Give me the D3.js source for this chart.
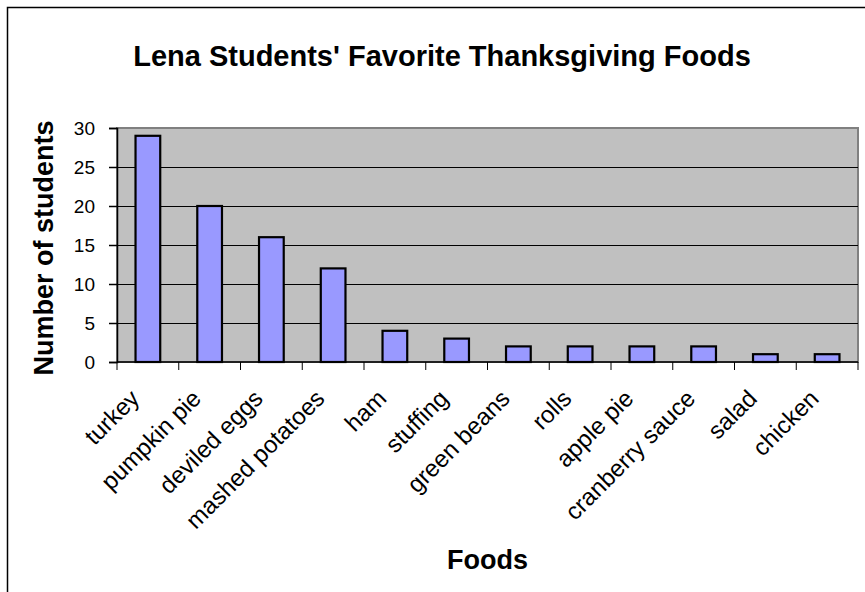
<!DOCTYPE html>
<html>
<head>
<meta charset="utf-8">
<script src="https://cdn.jsdelivr.net/npm/d3@7"></script>
<style>
  body { margin: 0; background: #fff; }
  svg { display: block; font-family: "Liberation Sans", Arial, sans-serif; }
</style>
</head>
<body>
<svg id="chart" width="865" height="592"></svg>
<script>
// survey counts per food
const foods = ["turkey", "pumpkin pie", "deviled eggs", "mashed potatoes", "ham", "stuffing",
  "green beans", "rolls", "apple pie", "cranberry sauce", "salad", "chicken"];
const students = [29, 20, 16, 12, 4, 3, 2, 2, 2, 2, 1, 1];
const yTicks = [0, 5, 10, 15, 20, 25, 30];

const svg = d3.select('#chart');
const plot = { left: 117, right: 858, top: 128, bottom: 362 };

// outer chart frame (runs off the bottom/right of the picture)
svg.append('rect')
  .attr('x', 7.5).attr('y', 7.5)
  .attr('width', 880).attr('height', 620)
  .attr('fill', '#fff').attr('stroke', '#000').attr('stroke-width', 1.5);

const x = d3.scaleBand().domain(foods).range([plot.left, plot.right]).paddingInner(0.6).paddingOuter(0.3);
const xb = d3.scaleBand().domain(foods).range([plot.left, plot.right]);
const y = d3.scaleLinear().domain([0, 30]).range([plot.bottom, plot.top]);

// plot area
svg.append('rect')
  .attr('x', plot.left).attr('y', plot.top)
  .attr('width', plot.right - plot.left).attr('height', plot.bottom - plot.top)
  .attr('fill', '#c0c0c0').attr('stroke', '#808080').attr('stroke-width', 2);

// gridlines
svg.append('g')
  .selectAll('line')
  .data(yTicks.filter(d => d > 0 && d < 30))
  .enter()
  .append('line')
  .attr('x1', plot.left).attr('x2', plot.right)
  .attr('y1', d => Math.round(y(d)) + 0.5).attr('y2', d => Math.round(y(d)) + 0.5)
  .attr('stroke', '#000').attr('stroke-width', 1);

// bars
svg.append('g')
  .selectAll('rect')
  .data(foods)
  .enter()
  .append('rect')
  .attr('x', d => x(d))
  .attr('y', (d, i) => y(students[i]))
  .attr('width', x.bandwidth())
  .attr('height', (d, i) => plot.bottom - y(students[i]))
  .attr('fill', '#9999ff')
  .attr('stroke', '#000')
  .attr('stroke-width', 2.2);

// y axis
const yAxis = svg.append('g')
  .attr('transform', `translate(${plot.left},0)`)
  .call(d3.axisLeft(y).tickValues(yTicks).tickSize(8).tickPadding(14));
yAxis.selectAll('text').attr('font-size', 19).attr('fill', '#000').attr('font-family', 'Liberation Sans, Arial, sans-serif');
yAxis.selectAll('line, path').attr('stroke', '#000').attr('stroke-width', 1.5);

// x axis with ticks between categories
const xAxis = svg.append('g').attr('transform', `translate(0,${plot.bottom})`);
xAxis.append('line')
  .attr('x1', plot.left).attr('x2', plot.right)
  .attr('stroke', '#000').attr('stroke-width', 1.5);
xAxis.selectAll('.tk')
  .data(foods.concat(['end']))
  .enter()
  .append('line')
  .attr('x1', (d, i) => plot.left + i * xb.bandwidth())
  .attr('x2', (d, i) => plot.left + i * xb.bandwidth())
  .attr('y1', 0).attr('y2', 8)
  .attr('stroke', '#000').attr('stroke-width', 1);

xAxis.selectAll('.lbl')
  .data(foods)
  .enter()
  .append('text')
  .attr('transform', d => `translate(${xb(d) + xb.bandwidth() / 2 - 13},${32}) rotate(-45)`)
  .attr('text-anchor', 'end')
  .attr('dy', '0.35em')
  .attr('font-size', 24)
  .text(d => d);

// titles
svg.append('text')
  .attr('x', 442).attr('y', 66)
  .attr('text-anchor', 'middle')
  .attr('font-size', 29).attr('font-weight', 'bold')
  .text("Lena Students' Favorite Thanksgiving Foods");

svg.append('text')
  .attr('x', (plot.left + plot.right) / 2).attr('y', 569)
  .attr('text-anchor', 'middle')
  .attr('font-size', 27).attr('font-weight', 'bold')
  .text('Foods');

svg.append('text')
  .attr('transform', `translate(53,248) rotate(-90)`)
  .attr('text-anchor', 'middle')
  .attr('font-size', 27).attr('font-weight', 'bold')
  .text('Number of students');
</script>
</body>
</html>
